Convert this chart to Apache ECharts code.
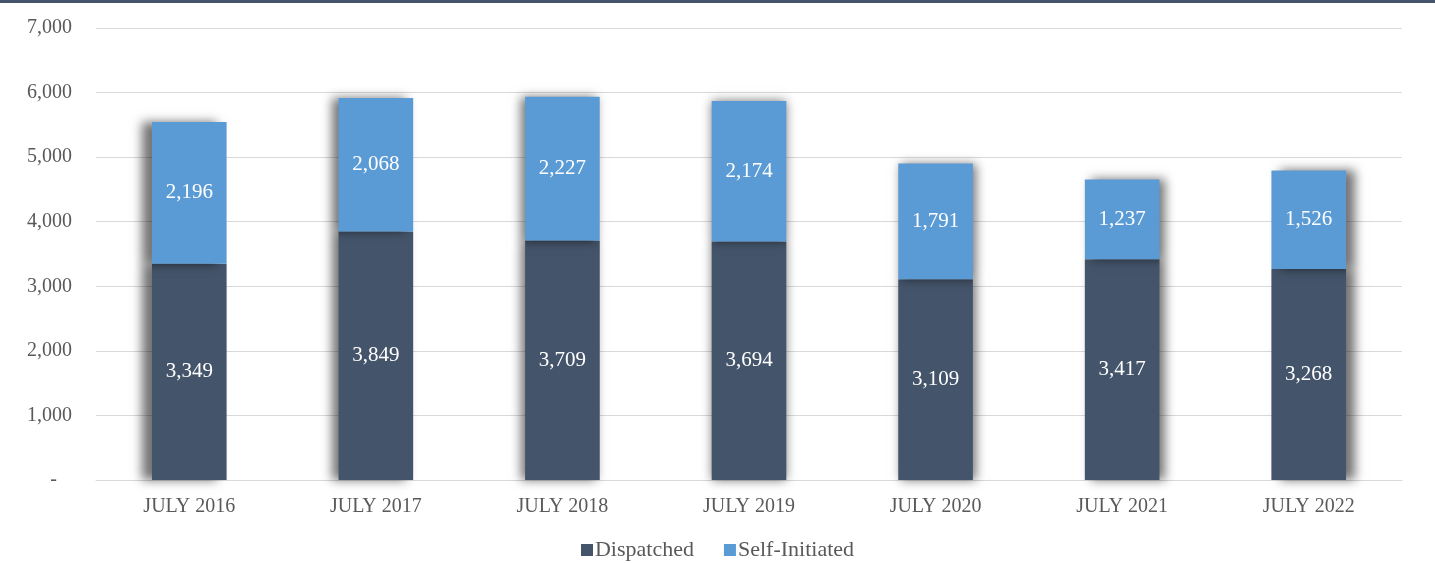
<!DOCTYPE html>
<html>
<head>
<meta charset="utf-8">
<script src="https://cdn.jsdelivr.net/npm/echarts@6/dist/echarts.min.js"></script>
<style>
  html, body { margin: 0; padding: 0; background: #fff; }
  #chart { width: 1435px; height: 563px; }
</style>
</head>
<body>
<div id="chart"></div>
<script>
var categories = ['JULY 2016', 'JULY 2017', 'JULY 2018', 'JULY 2019', 'JULY 2020', 'JULY 2021', 'JULY 2022'];
var dispatched = [3349, 3849, 3709, 3694, 3109, 3417, 3268];
var selfInitiated = [2196, 2068, 2227, 2174, 1791, 1237, 1526];
var shadowShift = [-10, -7, -4, 0, 3, 6, 9];

var fontFamily = '"Liberation Serif", "DejaVu Serif", serif';

function withShadow(values, color) {
    return values.map(function (v, i) {
        return {
            value: v,
            itemStyle: {
                color: color,
                shadowColor: 'rgba(0,0,0,0.55)',
                shadowBlur: 10,
                shadowOffsetX: shadowShift[i],
                shadowOffsetY: 0
            }
        };
    });
}

var dom = document.getElementById('chart');
var myChart = echarts.init(dom);
var option = {
    animation: false,
    textStyle: { fontFamily: fontFamily },
    graphic: [
        {
            type: 'rect',
            left: 0,
            top: 0,
            shape: { width: 1435, height: 3 },
            style: { fill: '#44546a' }
        }
    ],
    legend: {
        data: ['Dispatched', 'Self-Initiated'],
        bottom: -3,
        left: 'center',
        itemWidth: 12,
        itemHeight: 12,
        itemGap: 30,
        icon: 'rect',
        textStyle: { fontFamily: fontFamily, fontSize: 22, color: '#595959', padding: [0, 0, 0, -3] }
    },
    grid: {
        left: 96,
        right: 33,
        top: 28,
        bottom: 83
    },
    xAxis: {
        type: 'category',
        data: categories,
        axisTick: { show: false },
        axisLine: { lineStyle: { color: '#d9d9d9', width: 1 } },
        axisLabel: { color: '#595959', fontSize: 20, fontFamily: fontFamily, margin: 17 }
    },
    yAxis: {
        type: 'value',
        min: 0,
        max: 7000,
        interval: 1000,
        axisLine: { show: false },
        axisTick: { show: false },
        splitLine: { lineStyle: { color: '#d9d9d9', width: 1 } },
        axisLabel: {
            color: '#595959',
            fontSize: 20,
            fontFamily: fontFamily,
            margin: 24,
            formatter: function (v) {
                if (v === 0) return '-   ';
                return v.toLocaleString('en-US');
            }
        }
    },
    series: [
        {
            name: 'Dispatched',
            type: 'bar',
            stack: 'total',
            barWidth: '40%',
            itemStyle: { color: '#44546a' },
            label: {
                show: true,
                position: 'inside',
                color: '#ffffff',
                fontSize: 21,
                fontFamily: fontFamily,
                formatter: function (p) { return p.value.toLocaleString('en-US'); }
            },
            data: withShadow(dispatched, '#44546a')
        },
        {
            name: 'Self-Initiated',
            type: 'bar',
            stack: 'total',
            barWidth: '40%',
            itemStyle: { color: '#5b9bd5' },
            label: {
                show: true,
                position: 'inside',
                color: '#ffffff',
                fontSize: 21,
                fontFamily: fontFamily,
                formatter: function (p) { return p.value.toLocaleString('en-US'); }
            },
            data: withShadow(selfInitiated, '#5b9bd5')
        }
    ]
};
myChart.setOption(option, true);
window.onresize = myChart.resize;
</script>
</body>
</html>
